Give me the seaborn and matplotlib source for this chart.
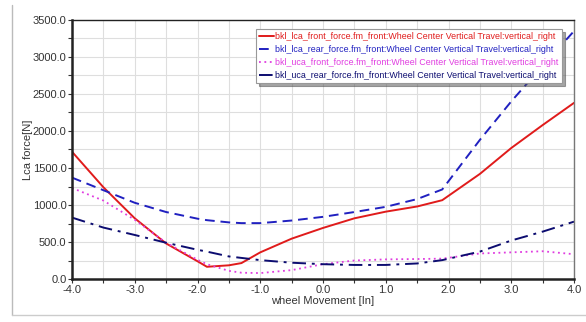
import numpy as np
import pandas as pd
import seaborn as sns
import matplotlib.pyplot as plt
from matplotlib.ticker import MultipleLocator, FormatStrFormatter
from matplotlib.lines import Line2D

# wheel travel positions [in]
travel = [-4.0, -3.5, -3.0, -2.5, -2.0, -1.85, -1.5, -1.3, -1.0, -0.5,
          0.0, 0.5, 1.0, 1.5, 1.9, 2.5, 3.0, 3.5, 4.0]

lca_front = [1720, 1240, 820, 480, 240, 165, 185, 215, 360, 545,
             690, 820, 910, 980, 1065, 1420, 1770, 2080, 2380]
lca_rear = [1370, 1200, 1030, 905, 815, 795, 765, 755, 755, 790,
            840, 905, 975, 1080, 1210, 1880, 2400, 2880, 3350]
uca_front = [1230, 1060, 800, 490, 260, 200, 110, 85, 80, 120,
             200, 250, 265, 270, 275, 345, 360, 375, 335]
uca_rear = [830, 695, 595, 490, 395, 370, 305, 285, 255, 220,
            200, 190, 190, 210, 255, 370, 520, 640, 775]

suffix = '.fm_front:Wheel Center Vertical Travel:vertical_right'
labels = ['bkl_lca_front_force' + suffix, 'bkl_lca_rear_force' + suffix,
          'bkl_uca_front_force' + suffix, 'bkl_uca_rear_force' + suffix]
colors = ['#e01b1b', '#2020c0', '#e03ce0', '#0c0c70']
styles = ['-', (0, (5, 3)), (0, (1, 2)), (0, (7, 3, 1.5, 3))]
widths = [1.4, 1.4, 1.3, 1.4]

sns.set_style('white')
plt.rcParams['font.family'] = ['Liberation Sans Narrow', 'Liberation Sans', 'DejaVu Sans']

fig = plt.figure(figsize=(5.86, 3.22), dpi=100)
ax = fig.add_axes([72 / 586, 43 / 322, 502 / 586, 259 / 322])

series = [lca_front, lca_rear, uca_front, uca_rear]
for vals, lab, c, ls, lw in zip(series, labels, colors, styles, widths):
    df = pd.DataFrame({'x': travel, 'y': vals})
    sns.lineplot(data=df, x='x', y='y', ax=ax, color=c, linestyle=ls,
                 linewidth=lw, label=lab, sort=False)

ax.set_xlim(-4, 4)
ax.set_ylim(0, 3500)
ax.xaxis.set_major_locator(MultipleLocator(1.0))
ax.xaxis.set_minor_locator(MultipleLocator(0.5))
ax.yaxis.set_major_locator(MultipleLocator(500))
ax.yaxis.set_minor_locator(MultipleLocator(250))
ax.xaxis.set_major_formatter(FormatStrFormatter('%.1f'))
ax.yaxis.set_major_formatter(FormatStrFormatter('%.1f'))
ax.grid(True, which='both', color='#dedede', linewidth=0.8)
ax.tick_params(which='both', direction='out', length=3, width=0.8,
               color='#333333', labelsize=8, labelcolor='#333333',
               bottom=True, left=True, pad=1)
for side in ['left', 'bottom']:
    ax.spines[side].set_color('#222222')
    ax.spines[side].set_linewidth(1.8)
ax.spines['top'].set_color('#222222')
ax.spines['top'].set_linewidth(1.0)
ax.spines['right'].set_color('#777777')
ax.spines['right'].set_linewidth(1.0)

ax.set_xlabel('wheel Movement [In]', fontsize=8, color='#333333', labelpad=1)
ax.set_ylabel('Lca force[N]', fontsize=8, color='#333333', labelpad=0)

leg = ax.legend(loc='upper right', bbox_to_anchor=(0.976, 0.965), fontsize=6.4,
                labelcolor='linecolor', handlelength=1.6, handletextpad=0.2,
                labelspacing=0.45, borderpad=0.35, borderaxespad=0,
                frameon=True, fancybox=False,
                shadow=True, framealpha=1.0, edgecolor='#999999')
leg.get_frame().set_linewidth(0.8)

# window frame lines
fig.add_artist(Line2D([12 / 586, 12 / 586], [7 / 322, 317 / 322],
                      transform=fig.transFigure, color='#bbbbbb', linewidth=1.0))
fig.add_artist(Line2D([12 / 586, 1.0], [7 / 322, 7 / 322],
                      transform=fig.transFigure, color='#cccccc', linewidth=1.0))

fig.savefig('out.png', dpi=100)
